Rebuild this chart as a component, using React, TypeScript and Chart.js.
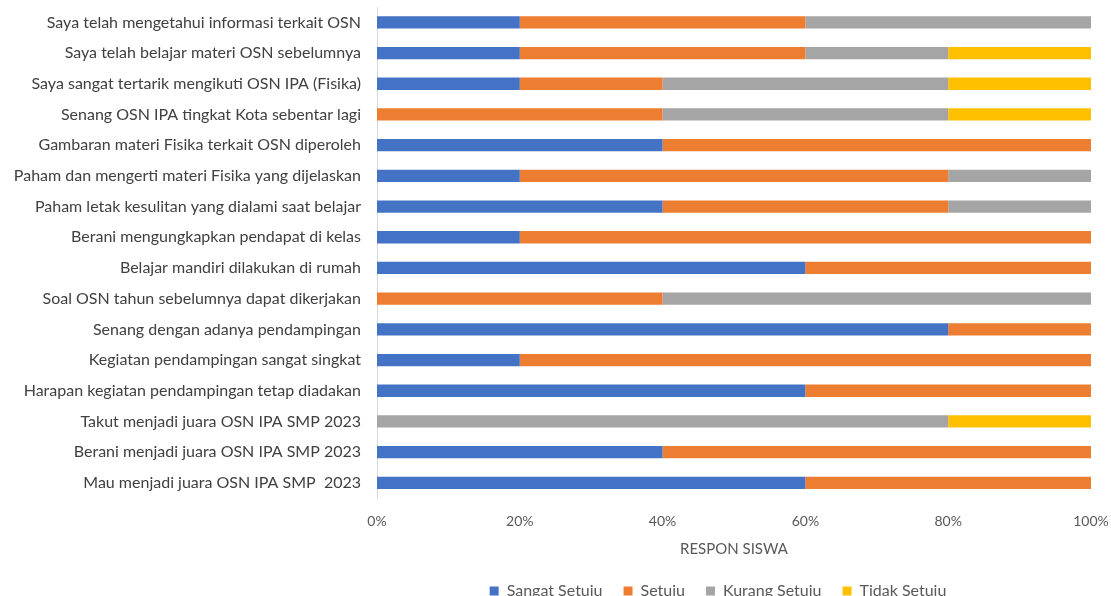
import React, { useEffect, useRef } from "react";
import { Chart, registerables } from "chart.js";

Chart.register(...registerables);

const categories: string[] = [
  "Saya telah mengetahui informasi terkait OSN",
  "Saya telah belajar materi OSN sebelumnya",
  "Saya sangat tertarik mengikuti OSN IPA (Fisika)",
  "Senang OSN IPA tingkat Kota sebentar lagi",
  "Gambaran materi Fisika terkait OSN diperoleh",
  "Paham dan mengerti materi Fisika yang dijelaskan",
  "Paham letak kesulitan yang dialami saat belajar",
  "Berani mengungkapkan pendapat di kelas",
  "Belajar mandiri dilakukan di rumah",
  "Soal OSN tahun sebelumnya dapat dikerjakan",
  "Senang dengan adanya pendampingan",
  "Kegiatan pendampingan sangat singkat",
  "Harapan kegiatan pendampingan tetap diadakan",
  "Takut menjadi juara OSN IPA SMP 2023",
  "Berani menjadi juara OSN IPA SMP 2023",
  "Mau menjadi juara OSN IPA SMP  2023",
];

const sangatSetuju: number[] = [20, 20, 20, 0, 40, 20, 40, 20, 60, 0, 80, 20, 60, 0, 40, 60];
const setuju: number[] = [40, 40, 20, 40, 60, 60, 40, 80, 40, 40, 20, 80, 40, 0, 60, 40];
const kurangSetuju: number[] = [40, 20, 40, 40, 0, 20, 20, 0, 0, 60, 0, 0, 0, 80, 0, 0];
const tidakSetuju: number[] = [0, 20, 20, 20, 0, 0, 0, 0, 0, 0, 0, 0, 0, 20, 0, 0];

const seriesNames: string[] = ["Sangat Setuju", "Setuju", "Kurang Setuju", "Tidak Setuju"];
const seriesColors: string[] = ["#4472C4", "#ED7D31", "#A5A5A5", "#FFC000"];
const xTicks: number[] = [0, 20, 40, 60, 80, 100];
const xTitle = "RESPON SISWA";

const FONT = "Lato, 'Open Sans', sans-serif";

const shiftLegend = {
  id: "shiftLegend",
  afterLayout(chart: any) {
    const lg = chart.legend;
    if (lg) {
      lg.left -= 16;
      lg.right -= 16;
    }
  },
};

export default function App() {
  const ref = useRef<HTMLCanvasElement | null>(null);
  useEffect(() => {
    document.body.style.margin = "0";
    if (!ref.current) return;
    const values = [sangatSetuju, setuju, kurangSetuju, tidakSetuju];
    const chart = new Chart(ref.current, {
      type: "bar",
      plugins: [shiftLegend],
      data: {
        labels: categories,
        datasets: seriesNames.map((name, i) => ({
          label: name,
          data: values[i],
          backgroundColor: seriesColors[i],
          borderWidth: 0,
          barPercentage: 0.4,
          categoryPercentage: 1,
        })),
      },
      options: {
        indexAxis: "y",
        animation: false,
        responsive: false,
        maintainAspectRatio: false,
        layout: { padding: { left: 0, right: 20, top: 7, bottom: 0 } },
        plugins: {
          legend: {
            position: "bottom",
            fullSize: false,
            labels: {
              boxWidth: 9,
              boxHeight: 9,
              color: "#595959",
              font: { family: FONT, size: 16 },
              padding: 21,
            },
          },
          tooltip: { enabled: false },
        },
        scales: {
          x: {
            stacked: true,
            min: 0,
            max: 100,
            afterBuildTicks: (scale: any) => {
              scale.ticks = xTicks.map((v) => ({ value: v }));
            },
            afterFit: (scale: any) => {
              scale.paddingLeft = 0;
              scale.paddingRight = 0;
            },
            ticks: {
              color: "#595959",
              font: { family: FONT, size: 14 },
              padding: 15,
              callback: (v: any) => v + "%",
            },
            grid: { display: false, drawTicks: false },
            border: { display: false },
            title: {
              display: true,
              text: xTitle,
              color: "#595959",
              font: { family: FONT, size: 15 },
              padding: { top: -5, bottom: 4 },
            },
          },
          y: {
            stacked: true,
            afterFit: (scale: any) => {
              scale.width = 377;
              scale.paddingTop = 0;
              scale.paddingBottom = 0;
            },
            ticks: {
              color: "#404040",
              font: { family: FONT, size: 16 },
              padding: 16,
              autoSkip: false,
            },
            grid: { display: false, drawTicks: false },
            border: { display: true, color: "#D9D9D9", width: 1 },
          },
        },
      },
    });
    return () => chart.destroy();
  }, []);
  return (
    <div style={{ position: "relative", width: 1111, height: 596, overflow: "hidden", background: "#fff" }}>
      <canvas ref={ref} width={1111} height={609} style={{ display: "block" }} />
    </div>
  );
}
